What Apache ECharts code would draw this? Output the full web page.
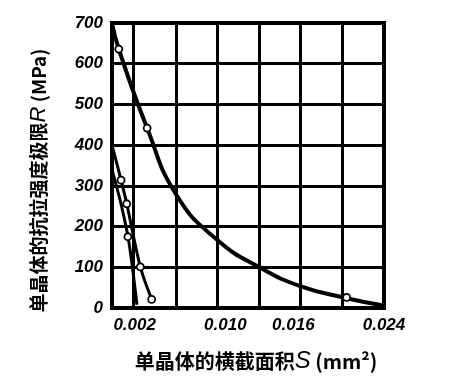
<!DOCTYPE html>
<html>
<head>
<meta charset="utf-8">
<script src="https://cdn.jsdelivr.net/npm/echarts@6/dist/echarts.min.js"></script>
<style>html,body{margin:0;padding:0;background:#fff;}#c{width:466px;height:387px;}</style>
</head>
<body>
<div id="c"></div>
<script>
// ---- data (S in mm^2, R in MPa) ----
const xTickLabels = [0.002, 0.010, 0.016, 0.024];
const xGridValues = [0.0019, 0.0057, 0.0093, 0.0130, 0.0166, 0.0203];
const yTickMin = 0, yTickMax = 700, yTickStep = 100;

const curveA_S = [0, 0.0006, 0.0031, 0.0057, 0.0093, 0.0132, 0.0166, 0.0207, 0.0240];
const curveA_R = [700, 636, 442, 277, 167, 97, 54, 24, 6];
const markA_S = [0.0006, 0.0031, 0.0207];
const markA_R = [636, 442, 26];

const curveB_S = [0, 0.0008, 0.0013, 0.0025, 0.0035];
const curveB_R = [400, 314, 256, 101, 21];
const markB_S = [0.0008, 0.0013, 0.0025, 0.0035];
const markB_R = [314, 256, 101, 21];

const curveC_S = [0, 0.0008, 0.0015, 0.0022];
const curveC_R = [340, 255, 160, 8];
const markC_S = [0.0014];
const markC_R = [175];

const zip = (a, b) => a.map((v, i) => [v, b[i]]);

const tickFont = {fontFamily: "'Liberation Sans Narrow','Liberation Sans',sans-serif", fontStyle: 'italic', fontWeight: 'bold', fontSize: 17, color: '#000'};
const cjk = "'Noto Sans CJK SC','Noto Sans CJK JP',sans-serif";

const chart = echarts.init(document.getElementById('c'), null, {renderer: 'canvas'});
const lineSeries = (d, w, s) => ({type: 'line', data: d, smooth: s, showSymbol: false, symbol: 'none', lineStyle: {color: '#000', width: w}, z: 5, silent: true});
const markSeries = (d) => ({type: 'scatter', data: d, symbol: 'circle', symbolSize: 7, itemStyle: {color: '#fff', borderColor: '#000', borderWidth: 1.8, opacity: 1}, z: 6, silent: true});

chart.setOption({
  backgroundColor: '#fff',
  animation: false,
  grid: {left: 112, top: 23, width: 272, height: 285, show: true, borderColor: '#000', borderWidth: 4, backgroundColor: 'transparent', containLabel: false},
  xAxis: {
    type: 'value', min: 0, max: 0.024,
    axisLine: {show: false},
    axisTick: {show: false, customValues: xGridValues},
    splitLine: {show: true, lineStyle: {color: '#000', width: 3}},
    axisLabel: {customValues: xTickLabels, formatter: v => v.toFixed(3), margin: 9, ...tickFont},
    name: '单晶体的横截面积{i|S} (mm²)', nameLocation: 'middle', nameGap: 41,
    nameTextStyle: {fontFamily: cjk, fontWeight: 'bold', fontSize: 20, color: '#000', padding: [0, 0, 0, 16],
      rich: {i: {fontFamily: "'Liberation Sans',sans-serif", fontStyle: 'italic', fontSize: 24, color: '#000', fontWeight: 'normal'}}}
  },
  yAxis: {
    type: 'value', min: yTickMin, max: yTickMax, interval: yTickStep,
    axisLine: {show: false},
    axisTick: {show: false},
    splitLine: {show: true, lineStyle: {color: '#000', width: 3}},
    axisLabel: {margin: 9, ...tickFont},
    name: '单晶体的抗拉强度极限{i|R} (MPa)', nameLocation: 'middle', nameGap: 62, nameRotate: 90,
    nameTextStyle: {fontFamily: cjk, fontWeight: 'bold', fontSize: 19, color: '#000', padding: [0, 30, 0, 0],
      rich: {i: {fontFamily: "'Liberation Sans',sans-serif", fontStyle: 'italic', fontSize: 22, color: '#000', fontWeight: 'normal'}}}
  },
  series: [
    lineSeries(zip(curveA_S, curveA_R), 4, 0.5),
    lineSeries(zip(curveB_S, curveB_R), 3, 0.3),
    lineSeries(zip(curveC_S, curveC_R), 3, 0.3),
    markSeries(zip(markA_S, markA_R)),
    markSeries(zip(markB_S, markB_R)),
    markSeries(zip(markC_S, markC_R))
  ]
});
</script>
</body>
</html>
